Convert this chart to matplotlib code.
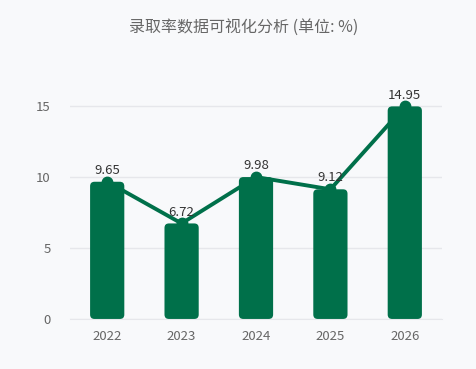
import matplotlib
matplotlib.use("Agg")
import matplotlib.pyplot as plt
from matplotlib.patches import FancyBboxPatch

plt.rcParams['font.family'] = ['Noto Sans CJK SC', 'DejaVu Sans']

years = ["2022", "2023", "2024", "2025", "2026"]
rates = [9.65, 6.72, 9.98, 9.12, 14.95]
yticks = [0, 5, 10, 15]

GREEN = "#00704A"
BG = "#f8f9fb"

fig = plt.figure(figsize=(4.77, 3.69), dpi=100, facecolor=BG)
ax = fig.add_axes([70/477, 50/369, 372/477, 256/369], facecolor=BG)

x = list(range(len(years)))
bars = ax.bar(x, rates, width=0.46, color=GREEN, zorder=2)
# rounded corners: swap plain rectangles for rounded boxes
for b in bars:
    b.set_visible(False)
    p = FancyBboxPatch((b.get_x(), 0), b.get_width(), b.get_height(),
                       boxstyle="round,pad=0,rounding_size=0.06",
                       mutation_aspect=5.2, fc=GREEN, ec="none", zorder=2)
    ax.add_patch(p)

ax.plot(x, rates, color=GREEN, lw=2.8, marker="o", ms=7.5, zorder=3)
for xi, v in zip(x, rates):
    ax.annotate(f"{v:.2f}", (xi, v), xytext=(0, 3.5), textcoords="offset points",
                ha="center", va="bottom", fontsize=9.5, color="#333333", zorder=4)

ax.set_xlim(-0.5, len(years) - 0.5)
ax.set_ylim(0, 18)
ax.set_xticks(x)
ax.set_xticklabels(years)
ax.set_yticks(yticks)
ax.tick_params(length=0, labelsize=9.5, colors="#666666", pad=8)
ax.tick_params(axis="y", pad=14)
ax.grid(axis="y", color="#e6e7eb", lw=1, zorder=0)
for s in ["top", "right", "left"]:
    ax.spines[s].set_visible(False)
ax.spines["bottom"].set_color("#e6e7eb")

fig.text(244/477, 1 - 27/369, "录取率数据可视化分析 (单位: %)", ha="center", va="center",
         fontsize=11.5, color="#666666")

fig.savefig("out.png", dpi=100, facecolor=BG)
